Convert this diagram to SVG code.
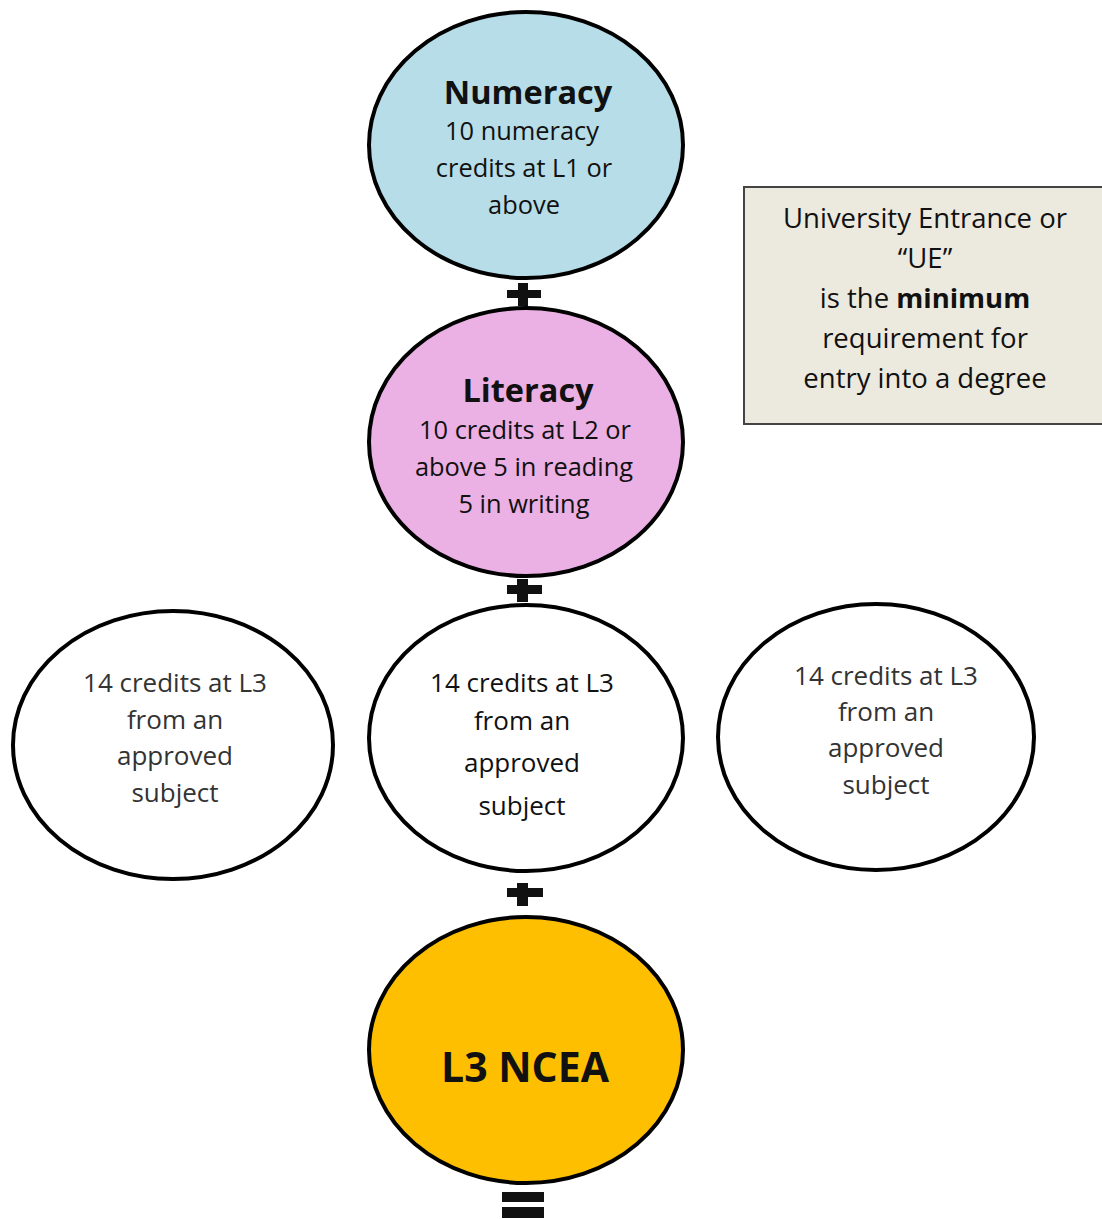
<svg xmlns="http://www.w3.org/2000/svg" width="1102" height="1219" viewBox="0 0 1102 1219">
<style>
.node{stroke:#000;stroke-width:4}
.t{font-family:"Open Sans","Liberation Sans",sans-serif;text-anchor:middle;fill:#111}
.h{font-weight:bold;font-size:32.5px}
.b{font-size:25.4px}
.c{font-size:26px}
.g{font-size:26px;fill:#333}
.ue{font-size:27.5px}
.sym{fill:#111}
</style>
<rect width="1102" height="1219" fill="#fff"/>
<g id="numeracy">
<ellipse class="node" cx="526" cy="145" rx="157" ry="133" fill="#b7dde8"/>
<text class="t h" x="528" y="104">Numeracy</text>
<text class="t b" x="522" y="140">10 numeracy</text>
<text class="t b" x="524" y="177">credits at L1 or</text>
<text class="t b" x="524" y="214">above</text>
</g>
<g id="literacy">
<ellipse class="node" cx="526" cy="442" rx="157" ry="134" fill="#ebb0e4"/>
<text class="t h" x="528" y="402">Literacy</text>
<text class="t b" x="525" y="439">10 credits at L2 or</text>
<text class="t b" x="524" y="476">above 5 in reading</text>
<text class="t b" x="524" y="513">5 in writing</text>
</g>
<g id="subject-left">
<ellipse class="node" cx="173" cy="745" rx="160" ry="134" fill="#fff"/>
<text class="t g" x="175" y="692">14 credits at L3</text>
<text class="t g" x="175" y="729">from an</text>
<text class="t g" x="175" y="765">approved</text>
<text class="t g" x="175" y="802">subject</text>
</g>
<g id="subject-center">
<ellipse class="node" cx="526" cy="738" rx="157" ry="133" fill="#fff"/>
<text class="t c" x="522" y="692">14 credits at L3</text>
<text class="t c" x="522" y="730">from an</text>
<text class="t c" x="522" y="772">approved</text>
<text class="t c" x="522" y="815">subject</text>
</g>
<g id="subject-right">
<ellipse class="node" cx="876" cy="737" rx="158" ry="133" fill="#fff"/>
<text class="t g" x="886" y="685">14 credits at L3</text>
<text class="t g" x="886" y="721">from an</text>
<text class="t g" x="886" y="757">approved</text>
<text class="t g" x="886" y="794">subject</text>
</g>
<g id="ncea">
<ellipse class="node" cx="526" cy="1050" rx="157" ry="133" fill="#fdbf00"/>
<text class="t" x="525" y="1082" style="font-weight:bold;font-size:41px">L3 NCEA</text>
</g>
<g id="ue-box">
<rect x="744" y="187" width="362" height="237" fill="#ece9df" stroke="#444" stroke-width="2"/>
<text class="t ue" x="925" y="228">University Entrance or</text>
<text class="t ue" x="925" y="268">“UE”</text>
<text class="t ue" x="925" y="308">is the <tspan font-weight="bold">minimum</tspan></text>
<text class="t ue" x="925" y="348">requirement for</text>
<text class="t ue" x="925" y="388">entry into a degree</text>
</g>
<g id="connectors">
<g class="sym">
<rect x="507" y="290" width="34" height="8"/><rect x="518" y="283" width="10" height="23"/>
<rect x="507" y="585" width="35" height="9"/><rect x="517" y="579" width="11" height="23"/>
<rect x="507" y="888" width="36" height="9"/><rect x="517" y="883" width="11" height="23"/>
<rect x="502" y="1192" width="42" height="10"/><rect x="502" y="1207" width="42" height="11"/>
</g>
</g>
</svg>
